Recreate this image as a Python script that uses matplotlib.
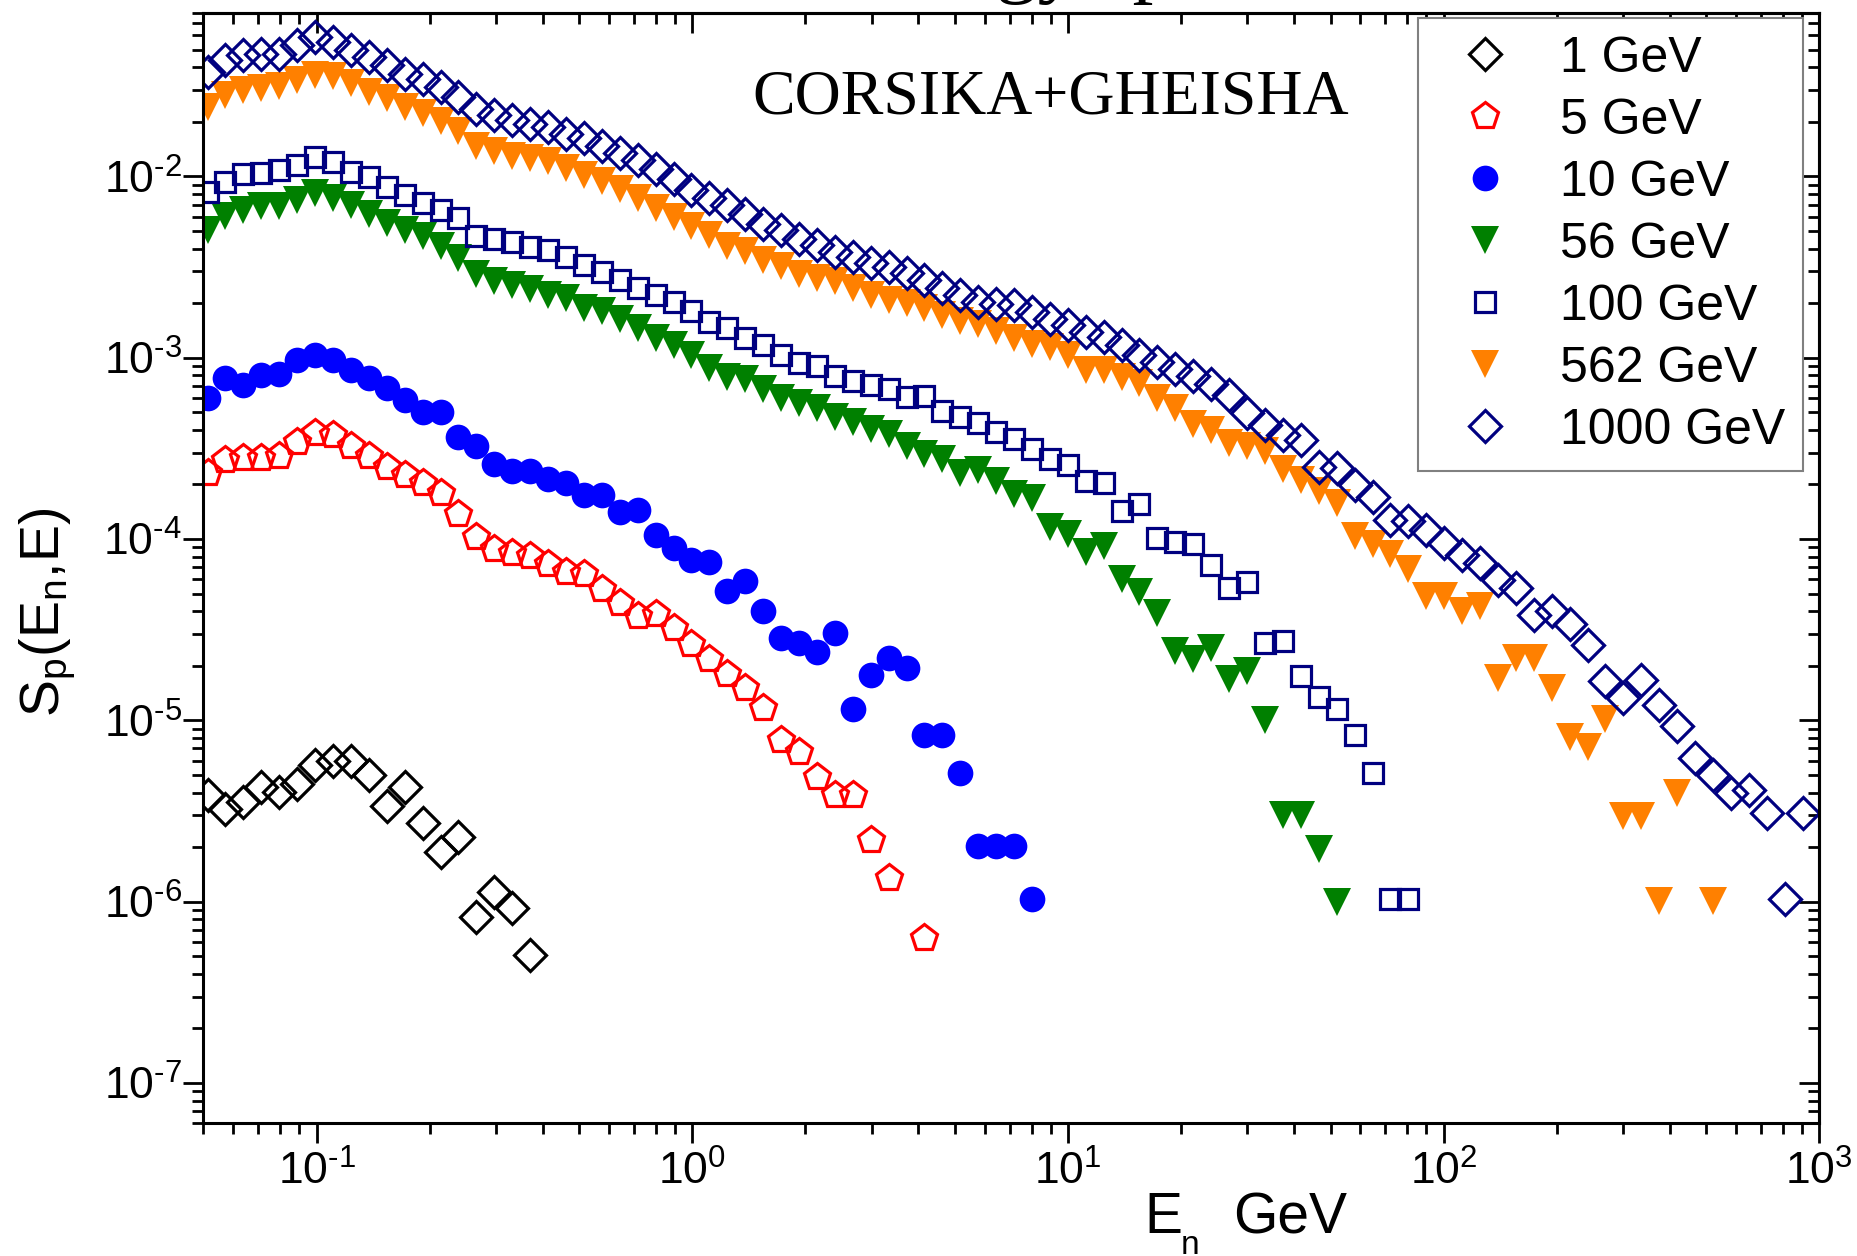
import matplotlib
matplotlib.use('Agg')
import matplotlib.pyplot as plt
from matplotlib.ticker import FuncFormatter
import math

plt.rcParams['font.family'] = ['Liberation Sans', 'DejaVu Sans']
plt.rcParams['mathtext.fontset'] = 'custom'
plt.rcParams['mathtext.rm'] = 'Liberation Sans'
plt.rcParams['mathtext.it'] = 'Liberation Sans:italic'
plt.rcParams['mathtext.bf'] = 'Liberation Sans:bold'
plt.rcParams['mathtext.default'] = 'regular'

# neutron energy bins (GeV)
e_bin = [0.0513, 0.0572, 0.0639, 0.0713, 0.0796, 0.0888, 0.0991, 0.1106, 0.1234, 0.1378,
         0.1538, 0.1716, 0.1916, 0.2138, 0.2386, 0.2663, 0.2972, 0.3318, 0.3703, 0.4133,
         0.4613, 0.5148, 0.5746, 0.6413, 0.7158, 0.7989, 0.8917, 0.9952, 1.111, 1.240,
         1.384, 1.544, 1.724, 1.924, 2.147, 2.396, 2.675, 2.985, 3.332, 3.719,
         4.150, 4.632, 5.170, 5.770, 6.440, 7.188, 8.023, 8.954, 9.99, 11.15,
         12.45, 13.89, 15.50, 17.30, 19.31, 21.56, 24.06, 26.85, 29.97, 33.45,
         37.33, 41.67, 46.51, 51.91, 57.93, 64.66, 72.17, 80.55, 89.87, 100.3,
         112.0, 124.9, 139.5, 155.6, 173.7, 193.9, 216.4, 241.5, 269.6, 300.9,
         335.7, 374.7, 418.2, 466.8, 521.0, 581.5, 649.0, 724.4, 808.5, 902.4]

# S_p(E_n, E) per bin, None = no point
sp_1 = [3.9e-6, 3.25e-6, 3.55e-6, 4.3e-6, 4.05e-6, 4.45e-6, 5.7e-6, 6.0e-6, 5.95e-6, 5.0e-6,
        3.35e-6, 4.3e-6, 2.7e-6, 1.87e-6, 2.27e-6, 8.2e-7, 1.13e-6, 9.2e-7, 5.1e-7]

sp_5 = [2.32e-4, 2.72e-4, 2.79e-4, 2.79e-4, 2.87e-4, 3.44e-4, 3.83e-4, 3.73e-4, 3.27e-4, 2.87e-4,
        2.51e-4, 2.26e-4, 2.04e-4, 1.79e-4, 1.37e-4, 1.03e-4, 8.77e-5, 8.33e-5, 8.11e-5, 7.3e-5,
        6.57e-5, 6.39e-5, 5.32e-5, 4.43e-5, 3.78e-5, 3.88e-5, 3.23e-5, 2.65e-5, 2.18e-5, 1.8e-5,
        1.5e-5, 1.17e-5, 7.8e-6, 6.7e-6, 4.9e-6, 3.9e-6, 3.9e-6, 2.2e-6, 1.35e-6, None,
        6.3e-7]

sp_10 = [5.97e-4, 7.69e-4, 7.07e-4, 8.01e-4, 8.18e-4, 9.7e-4, 1.03e-3, 9.7e-4, 8.55e-4, 7.69e-4,
         6.78e-4, 5.85e-4, 5.05e-4, 5.05e-4, 3.65e-4, 3.24e-4, 2.58e-4, 2.38e-4, 2.38e-4, 2.15e-4,
         2.04e-4, 1.74e-4, 1.74e-4, 1.41e-4, 1.45e-4, 1.05e-4, 8.9e-5, 7.7e-5, 7.5e-5, 5.2e-5,
         5.86e-5, 4.02e-5, 2.84e-5, 2.68e-5, 2.37e-5, 3.03e-5, 1.15e-5, 1.77e-5, 2.2e-5, 1.95e-5,
         8.26e-6, 8.26e-6, 5.14e-6, 2.04e-6, 2.04e-6, 2.04e-6, 1.03e-6]

sp_56 = [5.09e-3, 6.04e-3, 6.56e-3, 6.85e-3, 6.85e-3, 7.45e-3, 8.11e-3, 7.61e-3, 7.0e-3, 6.17e-3,
         5.55e-3, 5.09e-3, 4.68e-3, 4.12e-3, 3.55e-3, 2.88e-3, 2.64e-3, 2.53e-3, 2.38e-3, 2.23e-3,
         2.14e-3, 1.89e-3, 1.81e-3, 1.63e-3, 1.46e-3, 1.29e-3, 1.18e-3, 1.04e-3, 8.8e-4, 7.8e-4,
         7.6e-4, 6.7e-4, 6.0e-4, 5.6e-4, 5.3e-4, 4.7e-4, 4.45e-4, 4.05e-4, 3.8e-4, 3.25e-4,
         2.95e-4, 2.75e-4, 2.3e-4, 2.4e-4, 2.1e-4, 1.78e-4, 1.68e-4, 1.16e-4, 1.07e-4, 8.5e-5,
         9.1e-5, 6.0e-5, 5.1e-5, 3.9e-5, 2.4e-5, 2.17e-5, 2.5e-5, 1.7e-5, 1.88e-5, 1.0e-5,
         3.0e-6, 3.0e-6, 1.96e-6, 1.0e-6]

sp_100 = [8.2e-3, 9.3e-3, 1.03e-2, 1.04e-2, 1.08e-2, 1.15e-2, 1.28e-2, 1.2e-2, 1.06e-2, 9.9e-3,
          8.7e-3, 7.9e-3, 7.1e-3, 6.5e-3, 5.9e-3, 4.7e-3, 4.54e-3, 4.35e-3, 4.09e-3, 3.92e-3,
          3.6e-3, 3.24e-3, 2.98e-3, 2.68e-3, 2.41e-3, 2.22e-3, 2.04e-3, 1.8e-3, 1.58e-3, 1.45e-3,
          1.28e-3, 1.17e-3, 1.03e-3, 9.3e-4, 9.0e-4, 7.9e-4, 7.45e-4, 7.1e-4, 6.7e-4, 6.1e-4,
          6.15e-4, 5.1e-4, 4.7e-4, 4.35e-4, 3.9e-4, 3.55e-4, 3.15e-4, 2.75e-4, 2.55e-4, 2.1e-4,
          2.03e-4, 1.42e-4, 1.57e-4, 1.02e-4, 9.6e-5, 9.4e-5, 7.2e-5, 5.4e-5, 5.8e-5, 2.68e-5,
          2.74e-5, 1.75e-5, 1.35e-5, 1.15e-5, 8.3e-6, 5.1e-6, 1.03e-6, 1.03e-6]

sp_562 = [2.43e-2, 2.82e-2, 3.01e-2, 3.07e-2, 3.14e-2, 3.41e-2, 3.64e-2, 3.56e-2, 3.27e-2, 2.94e-2,
          2.7e-2, 2.43e-2, 2.24e-2, 2.01e-2, 1.77e-2, 1.47e-2, 1.38e-2, 1.29e-2, 1.26e-2, 1.21e-2,
          1.11e-2, 1.02e-2, 9.4e-3, 8.5e-3, 7.6e-3, 6.7e-3, 6.0e-3, 5.3e-3, 4.75e-3, 4.12e-3,
          3.87e-3, 3.48e-3, 3.2e-3, 2.88e-3, 2.76e-3, 2.64e-3, 2.43e-3, 2.23e-3, 2.09e-3, 2.01e-3,
          1.88e-3, 1.73e-3, 1.59e-3, 1.53e-3, 1.4e-3, 1.29e-3, 1.19e-3, 1.14e-3, 1.04e-3, 8.6e-4,
          8.6e-4, 7.8e-4, 7.3e-4, 6.0e-4, 5.3e-4, 4.3e-4, 4.0e-4, 3.4e-4, 3.26e-4, 3.06e-4,
          2.43e-4, 2.13e-4, 1.84e-4, 1.59e-4, 1.04e-4, 9.36e-5, 8.24e-5, 6.81e-5, 4.86e-5, 4.86e-5,
          4.02e-5, 4.28e-5, 1.71e-5, 2.2e-5, 2.2e-5, 1.5e-5, 8.05e-6, 7.1e-6, 1.02e-5, 2.98e-6,
          2.98e-6, 1.01e-6, 4.0e-6, None, 1.01e-6]

sp_1000 = [3.77e-2, 4.37e-2, 4.65e-2, 4.75e-2, 4.75e-2, 5.29e-2, 5.87e-2, 5.51e-2, 4.96e-2, 4.55e-2,
           4.1e-2, 3.69e-2, 3.46e-2, 3.11e-2, 2.74e-2, 2.36e-2, 2.17e-2, 2.04e-2, 1.95e-2, 1.87e-2,
           1.72e-2, 1.62e-2, 1.48e-2, 1.34e-2, 1.23e-2, 1.1e-2, 9.7e-3, 8.4e-3, 7.6e-3, 6.94e-3,
           6.24e-3, 5.5e-3, 5.05e-3, 4.54e-3, 4.18e-3, 3.84e-3, 3.6e-3, 3.31e-3, 3.17e-3, 2.92e-3,
           2.68e-3, 2.41e-3, 2.21e-3, 2.04e-3, 1.98e-3, 1.95e-3, 1.79e-3, 1.64e-3, 1.51e-3, 1.39e-3,
           1.3e-3, 1.17e-3, 1.03e-3, 9.5e-4, 8.7e-4, 7.9e-4, 7.2e-4, 6.23e-4, 4.94e-4, 4.26e-4,
           3.75e-4, 3.52e-4, 2.51e-4, 2.46e-4, 1.99e-4, 1.71e-4, 1.27e-4, 1.25e-4, 1.12e-4, 9.48e-5,
           8.17e-5, 7.35e-5, 5.95e-5, 5.34e-5, 3.8e-5, 4.0e-5, 3.4e-5, 2.6e-5, 1.65e-5, 1.33e-5,
           1.67e-5, 1.22e-5, 9.27e-6, 6.2e-6, 5.01e-6, 3.97e-6, 4.15e-6, 3.09e-6, 1.03e-6, 3.09e-6]

labels = ['1 GeV', '5 GeV', '10 GeV', '56 GeV', '100 GeV', '562 GeV', '1000 GeV']
spectra = [sp_1, sp_5, sp_10, sp_56, sp_100, sp_562, sp_1000]

# marker, colour, filled, size
styles = [('D', 'black', False, 16),
          ('p', '#FF0000', False, 20),
          ('o', '#0000FF', True, 18.5),
          ('v', '#008000', True, 20),
          ('s', '#000080', False, 15),
          ('v', '#FF8000', True, 20),
          ('D', '#000080', False, 16)]

fig = plt.figure(figsize=(18.58, 12.56), dpi=100)
ax = fig.add_axes([0.1095, 0.1057, 0.9792 - 0.1095, 0.9899 - 0.1057])

for lab, vals, (mk, col, filled, ms) in zip(labels, spectra, styles):
    xs = [e for e, v in zip(e_bin, vals) if v is not None]
    ys = [v for v in vals if v is not None]
    if filled:
        ax.plot(xs, ys, linestyle='none', marker=mk, ms=ms, color=col,
                markeredgewidth=0, label=lab)
    else:
        ax.plot(xs, ys, linestyle='none', marker=mk, ms=ms, color=col,
                markerfacecolor='none', markeredgewidth=2.3, label=lab)

ax.set_xscale('log')
ax.set_yscale('log')
ax.set_xlim(0.05, 1000)
ax.set_ylim(6e-8, 0.08)


def pow10(v, pos):
    p = int(round(math.log10(v)))
    if p < 0:
        return r'$10^{\text{-}%d}$' % (-p)
    return r'$10^{%d}$' % p


ax.xaxis.set_major_formatter(FuncFormatter(pow10))
ax.yaxis.set_major_formatter(FuncFormatter(pow10))

for sp in ax.spines.values():
    sp.set_linewidth(2.2)

ax.tick_params(which='major', direction='out', length=14.5, width=2, labelsize=32)
ax.tick_params(which='minor', direction='out', length=8, width=2)
ax.tick_params(axis='x', which='major', pad=5)
ax.tick_params(axis='y', which='major', pad=1)

# inward ticks on top and right
top = ax.secondary_xaxis('top')
top.tick_params(which='major', direction='in', length=14.5, width=2,
                labeltop=False, labelbottom=False)
top.tick_params(which='minor', direction='in', length=8, width=2,
                labeltop=False, labelbottom=False)
right = ax.secondary_yaxis('right')
right.tick_params(which='major', direction='in', length=14.5, width=2,
                  labelright=False, labelleft=False)
right.tick_params(which='minor', direction='in', length=8, width=2,
                  labelright=False, labelleft=False)
for sec in (top, right):
    for sp in sec.spines.values():
        sp.set_linewidth(2.2)

leg = ax.legend(loc='upper right', bbox_to_anchor=(0.990, 0.995), fontsize=36,
                numpoints=1, fancybox=False, framealpha=1, edgecolor='#808080',
                borderpad=0.35, labelspacing=0.32, handlelength=2.0,
                handletextpad=0.5, borderaxespad=0)
leg.get_frame().set_linewidth(1.5)

fig.text(0.5657, 0.910, 'CORSIKA+GHEISHA', family=['Liberation Serif', 'DejaVu Serif'],
         fontsize=46, ha='center', va='baseline')

# title cut off at the top edge
fig.text(0.452, 1.010, 'Energy spectra', family=['Liberation Serif', 'DejaVu Serif'],
         fontsize=60, ha='left', va='baseline')

# axis labels
fig.text(0.6157, 0.0183, 'E', fontsize=41, ha='left', va='baseline')
fig.text(0.6356, 0.0016, 'n', fontsize=24, ha='left', va='baseline')
fig.text(0.6636, 0.0183, 'GeV', fontsize=41, ha='left', va='baseline')
fig.text(0.026, 0.5127, r'$S_p(E_n{,}E)$', fontsize=40, rotation=90,
         ha='center', va='center')

fig.savefig('out.png', dpi=100)
